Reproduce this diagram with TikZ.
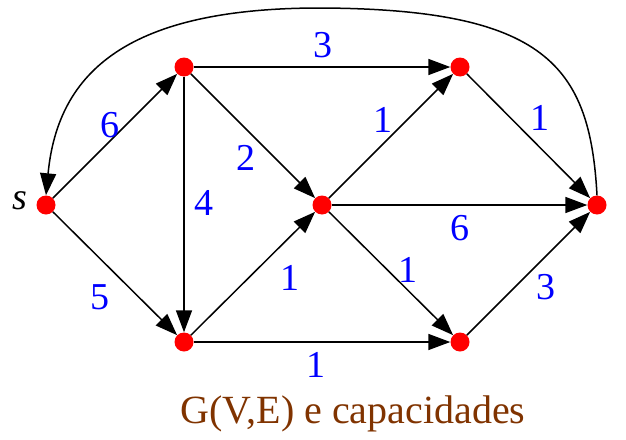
\documentclass[tikz,border=0pt]{standalone}
\usepackage{fontspec}
\setmainfont{Liberation Serif}
\usetikzlibrary{arrows.meta}
\begin{document}
\begin{tikzpicture}[x=1pt,y=-1pt,
  vert/.style={circle,fill=red,inner sep=0pt,minimum size=19pt},
  arc/.style={draw=black,line width=1.5pt,-{Triangle[length=22pt,width=16pt]}},
  wlabel/.style={text=blue,font=\rmfamily\fontsize{38}{40}\selectfont}]
\useasboundingbox (0,0) rectangle (626,439);
\node[vert] (s) at (46,205) {};
\node[vert] (a) at (184,67) {};
\node[vert] (b) at (184,342) {};
\node[vert] (c) at (322,205) {};
\node[vert] (d) at (460,67) {};
\node[vert] (e) at (460,342) {};
\node[vert] (t) at (597,205) {};
\node[font=\rmfamily\fontsize{38}{40}\selectfont\itshape] (sl) at (20,201) {s};
\draw[arc] (s) -- (a);
\draw[arc] (s) -- (b);
\draw[arc] (a) -- (d);
\draw[arc] (a) -- (c);
\draw[arc] (a) -- (b);
\draw[arc] (b) -- (c);
\draw[arc] (b) -- (e);
\draw[arc] (c) -- (d);
\draw[arc] (c) -- (t);
\draw[arc] (c) -- (e);
\draw[arc] (d) -- (t);
\draw[arc] (e) -- (t);
\coordinate (top) at (320,8);
\draw[arc] (t.north) .. controls (590,65) and (545,9) .. (top) .. controls (130,8) and (58,70) .. (s.north);
\node[wlabel] (l1) at (110,125) {6};
\node[wlabel] (l2) at (100,297) {5};
\node[wlabel] (l3) at (323,45) {3};
\node[wlabel] (l4) at (246,158) {2};
\node[wlabel] (l5) at (204,203) {4};
\node[wlabel] (l6) at (383,120) {1};
\node[wlabel] (l7) at (540,118) {1};
\node[wlabel] (l8) at (460,228) {6};
\node[wlabel] (l9) at (290,278) {1};
\node[wlabel] (l10) at (408,270) {1};
\node[wlabel] (l11) at (546,287) {3};
\node[wlabel] (l12) at (316,365) {1};
\node[text={rgb,255:red,128;green,51;blue,0},font=\rmfamily\fontsize{40}{42}\selectfont] (capt) at (353,414) {G(V,E) e capacidades};
\end{tikzpicture}
\end{document}
